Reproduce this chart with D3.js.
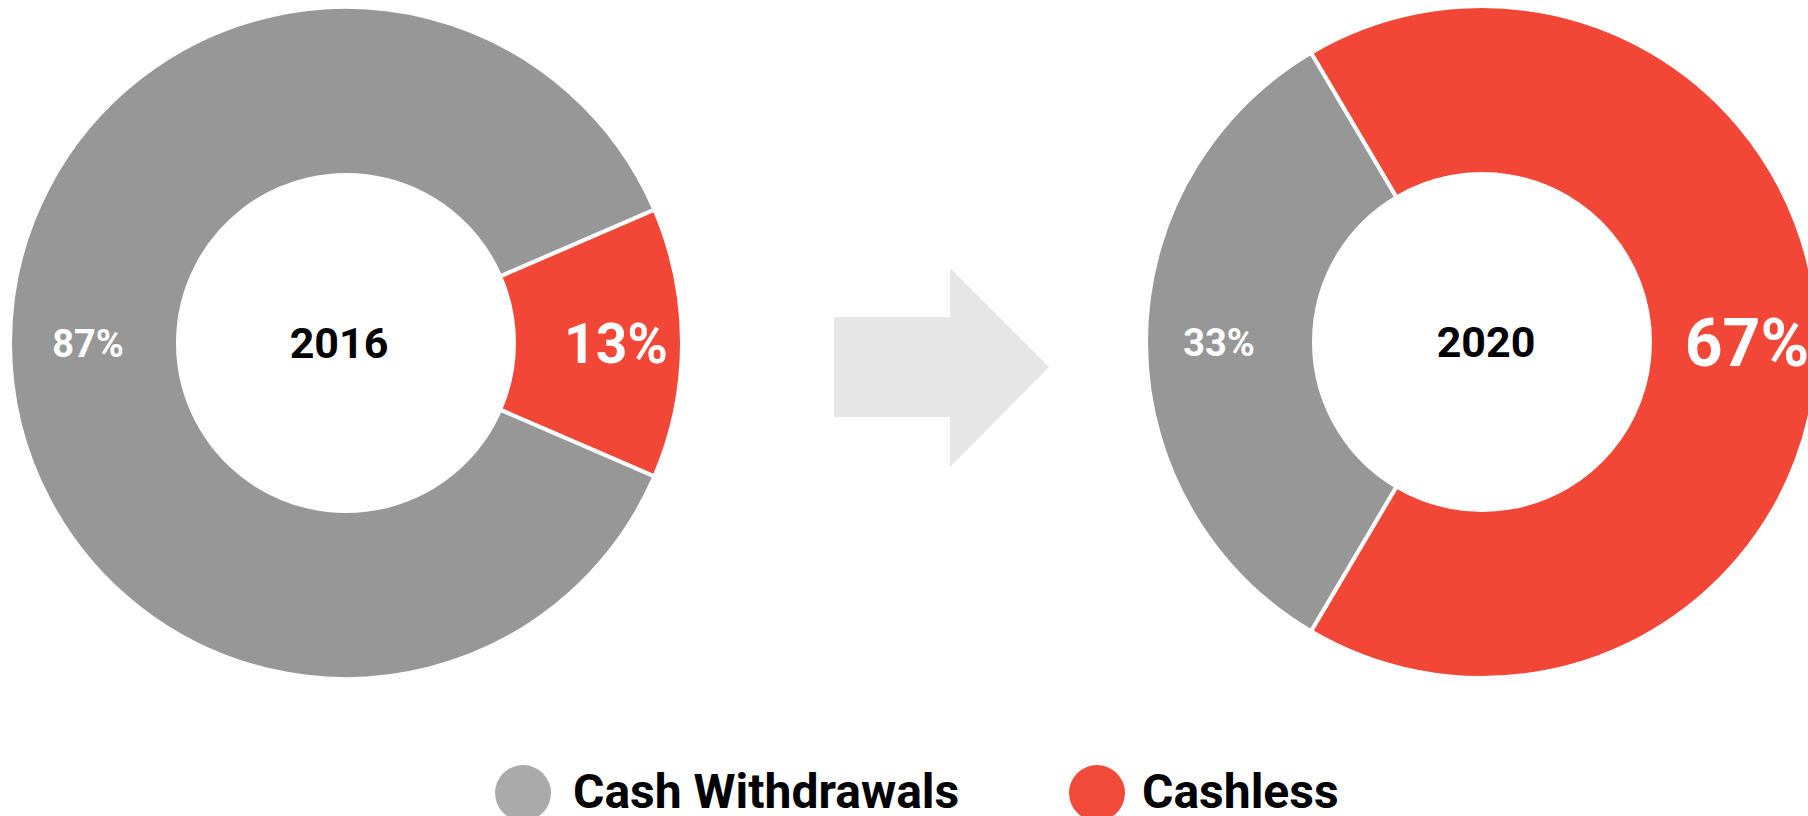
<!DOCTYPE html>
<html>
<head>
<meta charset="utf-8">
<script src="https://cdn.jsdelivr.net/npm/d3@7"></script>
<style>
  html, body { margin: 0; padding: 0; background: #fff; }
  svg { display: block; font-family: Roboto, "Noto Sans", sans-serif; }
</style>
</head>
<body>
<svg id="chart"></svg>
<script>
const categories = ['Cash Withdrawals', 'Cashless'];
const years = ['2016', '2020'];
const values2016 = [87, 13];
const values2020 = [33, 67];

const width = 1808;
const height = 816;

const svg = d3.select('#chart')
  .attr('width', width)
  .attr('height', height);

const color = d3.scaleOrdinal()
  .domain(categories)
  .range(['#979797', '#f24637']);

const legendColor = d3.scaleOrdinal()
  .domain(categories)
  .range(['#aaaaaa', '#f24a3a']);

const outerR = 336;
const innerR = 168;

// one donut per year
const charts = [
  { year: years[0], values: values2016, cx: 346, cy: 343, big: 55, yearDx: -7, labelShift: 6 },
  { year: years[1], values: values2020, cx: 1482, cy: 342, big: 66, yearDx: 4, labelShift: 1 }
];

const arc = d3.arc().innerRadius(innerR).outerRadius(outerR);

charts.forEach(c => {
  const data = categories.map((k, i) => ({ key: k, value: c.values[i] }));
  const share = c.values[1] / d3.sum(c.values);
  // cashless slice centred on the right-hand side
  const start = Math.PI / 2 - share * Math.PI;
  const pie = d3.pie()
    .sort(null)
    .value(d => d.value)
    .startAngle(start)
    .endAngle(start + 2 * Math.PI);
  const arcs = pie([data[1], data[0]]);

  const g = svg.append('g').attr('transform', `translate(${c.cx},${c.cy})`);

  g.selectAll('path')
    .data(arcs)
    .join('path')
    .attr('d', arc)
    .attr('fill', d => color(d.data.key))
    .attr('stroke', '#fff')
    .attr('stroke-width', 4);

  const labelArc = d3.arc().innerRadius(264).outerRadius(264);

  g.selectAll('text.pct')
    .data(arcs)
    .join('text')
    .attr('class', 'pct')
    .attr('x', d => labelArc.centroid(d)[0] + c.labelShift)
    .attr('y', d => labelArc.centroid(d)[1])
    .attr('dy', '0.36em')
    .attr('text-anchor', 'middle')
    .attr('fill', '#fff')
    .attr('font-weight', 700)
    .attr('font-size', d => d.data.key === 'Cashless' ? c.big : 38)
    .text(d => d.data.value + '%');

  g.append('text')
    .attr('x', c.yearDx)
    .attr('dy', '0.36em')
    .attr('text-anchor', 'middle')
    .attr('font-weight', 700)
    .attr('font-size', 43)
    .attr('fill', '#000')
    .text(c.year);
});

// arrow between the donuts
const arrow = d3.path();
arrow.moveTo(834, 317);
arrow.lineTo(950, 317);
arrow.lineTo(950, 268);
arrow.lineTo(1049, 367);
arrow.lineTo(950, 467);
arrow.lineTo(950, 417);
arrow.lineTo(834, 417);
arrow.closePath();
svg.append('path')
  .attr('d', arrow.toString())
  .attr('fill', '#e6e6e6');

// legend
const legendX = d3.scaleOrdinal().domain(categories).range([523, 1097]);
const legend = svg.append('g')
  .selectAll('g')
  .data(categories)
  .join('g')
  .attr('transform', d => `translate(${legendX(d)},793)`);

legend.append('circle')
  .attr('r', 28)
  .attr('fill', d => legendColor(d));

legend.append('text')
  .attr('x', (d, i) => i === 0 ? 50 : 45)
  .attr('y', 15)
  .attr('font-size', 48)
  .attr('font-weight', 700)
  .attr('fill', '#000')
  .text(d => d);
</script>
</body>
</html>
